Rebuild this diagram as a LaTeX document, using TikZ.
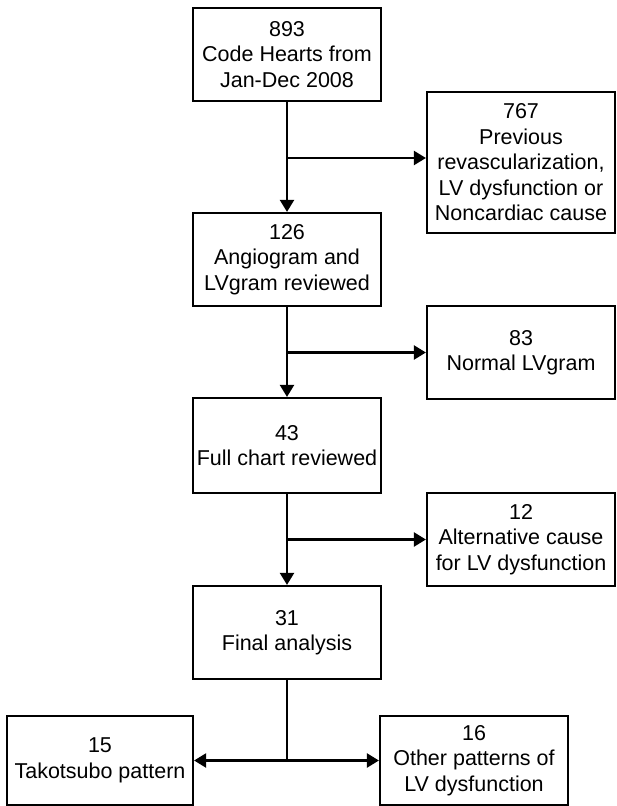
\documentclass[tikz,border=0pt]{standalone}
\usepackage{fontspec}
\setmainfont{Liberation Sans}
\usetikzlibrary{
    arrows.meta,
    positioning
}

\begin{document}
\begin{tikzpicture}[
    x=1pt, y=-1pt,
    box/.style={
        rectangle,
        draw=black,
        line width=2.2pt,
        minimum width=188pt,
        minimum height=93pt,
        inner sep=0pt,
        align=center,
        font=\fontsize{21.5}{25.5}\selectfont
    },
    arrow/.style={-{Triangle[length=12pt,width=14pt]}, line width=2.3pt}
]
\useasboundingbox (0,0) rectangle (616,806);

% Main column
\node[box] (hearts) at (287, 54.5) {893\\Code Hearts from\\Jan-Dec 2008};
\node[box] (angio) at (287, 259.5) {126\\Angiogram and\\LVgram reviewed};
\node[box, minimum height=95pt] (chart) at (287, 445.5) {43\\Full chart reviewed};
\node[box] (final) at (287, 632.5) {31\\Final analysis};

% Excluded boxes
\node[box, minimum height=141pt] (prev) at (521, 162.5) {767\\Previous\\revascularization,\\LV dysfunction or\\Noncardiac cause};
\node[box] (normal) at (521, 352.5) {83\\Normal LVgram};
\node[box] (altcause) at (521, 539.5) {12\\Alternative cause\\for LV dysfunction};

% Outcome boxes
\node[box, minimum width=186pt, minimum height=89pt] (tako) at (100, 760.5) {15\\Takotsubo pattern};
\node[box, minimum height=89pt] (other) at (474, 760.5) {16\\Other patterns of\\LV dysfunction};

% Arrows
\draw[arrow] (hearts) -- (angio);
\draw[arrow] ([yshift=4.5pt]prev.west -| hearts.south) -- ([yshift=4.5pt]prev.west);
\draw[arrow] (angio) -- (chart);
\draw[arrow] (normal.west -| angio.south) -- (normal.west);
\draw[arrow] (chart) -- (final);
\draw[arrow] (altcause.west -| chart.south) -- (altcause.west);

\coordinate (split) at (tako.east -| final.south);
\draw[line width=2.3pt] (final) -- (split);
\draw[arrow] (split) -- (tako.east);
\draw[arrow] (split) -- (other.west);

\end{tikzpicture}
\end{document}
